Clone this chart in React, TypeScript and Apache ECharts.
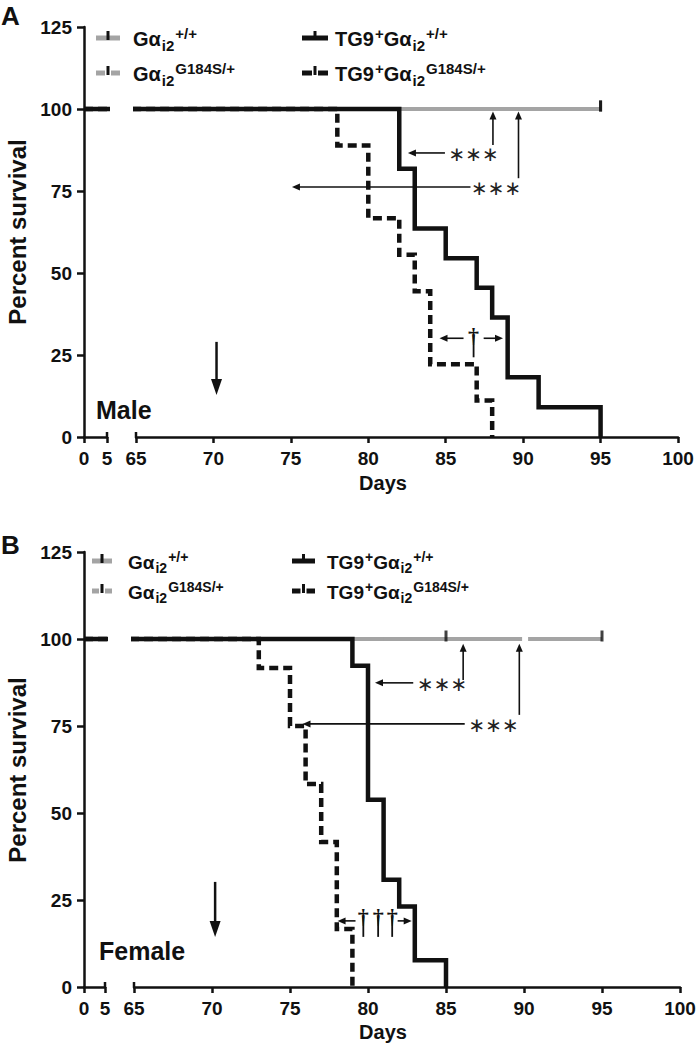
import React, { useEffect, useRef } from "react";
import * as echarts from "echarts";

// ---------------- data ----------------
const xTicksLeft = [0, 5];
const xTicksRight = [65, 70, 75, 80, 85, 90, 95, 100];
const yTicks = [0, 25, 50, 75, 100, 125];

// Male (panel A)
const maleWtDays = [0, 95];
const maleWtSurv = [100, 100];
const maleWtCensored = [95];
const maleMutDays = [0, 95];
const maleMutSurv = [100, 100];
const maleMutCensored = [95];
const maleTgWtDays = [0, 82, 83, 85, 87, 88, 89, 91, 95];
const maleTgWtSurv = [100, 81.8, 63.6, 54.5, 45.5, 36.4, 18.2, 9.1, 0];
const maleTgMutDays = [0, 78, 80, 82, 83, 84, 87, 88];
const maleTgMutSurv = [100, 88.9, 66.7, 55.6, 44.4, 22.2, 11.1, 0];

// Female (panel B)
const femaleWtDays = [0, 85];
const femaleWtSurv = [100, 100];
const femaleWtCensored = [85];
const femaleMutDays = [0, 95];
const femaleMutSurv = [100, 100];
const femaleMutCensored = [95];
const femaleTgWtDays = [0, 79, 80, 81, 82, 83, 85];
const femaleTgWtSurv = [100, 92.3, 53.8, 30.8, 23.1, 7.7, 0];
const femaleTgMutDays = [0, 73, 75, 76, 77, 78, 79];
const femaleTgMutSurv = [100, 91.7, 75, 58.3, 41.7, 16.7, 0];

const panelLetters = ["A", "B"];
const sexLabels = ["Male", "Female"];
const xTitle = "Days";
const yTitle = "Percent survival";
const sigLabel = "∗∗∗";
const daggerLabel = "†";

// ---------------- styles / layout ----------------
const FONT = '"Liberation Sans", Arial, Helvetica, sans-serif';
const BLACK = "#111111";
const GRAY = "#a4a4a4";
const BREAK_L = 6.3; // where the pre-break segment ends (axis break)
const BREAK_R = 64.75; // where the post-break segment starts

type Group = {
  days: number[];
  surv: number[];
  censored: number[];
  color: string;
  dash: any;
  width: number;
  dashOffset?: number;
};

const PANELS = [
  {
    top: 27,
    height: 410,
    l1: 84,
    w1: 23,
    l2: 136,
    w2: 542,
    groups: [
      { days: maleWtDays, surv: maleWtSurv, censored: maleWtCensored, color: GRAY, dash: "solid", width: 4 },
      { days: maleMutDays, surv: maleMutSurv, censored: maleMutCensored, color: GRAY, dash: [133, 6], dashOffset: 19, width: 4 },
      { days: maleTgMutDays, surv: maleTgMutSurv, censored: [], color: BLACK, dash: [9, 5], width: 4.5 },
      { days: maleTgWtDays, surv: maleTgWtSurv, censored: [], color: BLACK, dash: "solid", width: 4.5 },
    ] as Group[],
    legend: { rows: [38, 73], c1: [96, 120, 133], c2: [302, 328, 335], fs: 20 },
    letterY: 16,
    sexPos: [96, 410],
    titleY: 232,
    daysY: 483,
    arrows: [
      { from: [84.95, 86.6], to: [82.56, 86.6] },
      { from: [88.05, 89.0], to: [88.05, 99.2] },
      { from: [86.6, 76.2], to: [75.07, 76.2] },
      { from: [89.7, 78.9], to: [89.7, 99.2] },
      { from: [86.15, 30.1], to: [84.6, 30.1] },
      { from: [87.45, 30.1], to: [88.7, 30.1] },
    ],
    sigs: [
      [86.8, 86.6],
      [88.25, 76.2],
    ],
    daggers: [[86.8, 31.0]],
    daggerStemEnd: 24.3,
    bigArrow: { from: [70.2, 29], to: [70.2, 12.8] },
  },
  {
    top: 552,
    height: 435,
    l1: 84,
    w1: 21,
    l2: 134,
    w2: 546,
    groups: [
      { days: femaleWtDays, surv: femaleWtSurv, censored: femaleWtCensored, color: GRAY, dash: "solid", width: 4 },
      { days: femaleMutDays, surv: femaleMutSurv, censored: femaleMutCensored, color: GRAY, dash: [133, 6], dashOffset: 19, width: 4 },
      { days: femaleTgMutDays, surv: femaleTgMutSurv, censored: [], color: BLACK, dash: [9, 5], width: 4.5 },
      { days: femaleTgWtDays, surv: femaleTgWtSurv, censored: [], color: BLACK, dash: "solid", width: 4.5 },
    ] as Group[],
    legend: { rows: [561, 591], c1: [92, 112, 128], c2: [292, 315, 327], fs: 19 },
    letterY: 545,
    sexPos: [99, 951],
    titleY: 770,
    daysY: 1032,
    arrows: [
      { from: [82.9, 87.4], to: [80.45, 87.4] },
      { from: [86.1, 88.2], to: [86.1, 98.6] },
      { from: [86.2, 75.6], to: [75.8, 75.6] },
      { from: [89.7, 78.2], to: [89.7, 98.6] },
      { from: [79.2, 19.0], to: [78.05, 19.0] },
      { from: [81.9, 19.0], to: [82.8, 19.0] },
    ],
    sigs: [
      [84.75, 87.4],
      [88.05, 75.6],
    ],
    daggers: [
      [79.7, 20.2],
      [80.65, 20.2],
      [81.55, 20.2],
    ],
    daggerStemEnd: 14.4,
    bigArrow: { from: [70.2, 30.2], to: [70.2, 14.4] },
  },
];

const legendDefs = [
  { col: 0, row: 0, color: GRAY, dashed: false, text: "{m|Gα}{s|i2}{p|+/+}" },
  { col: 0, row: 1, color: GRAY, dashed: true, text: "{m|Gα}{s|i2}{p|G184S/+}" },
  { col: 1, row: 0, color: BLACK, dashed: false, text: "{m|TG9}{p|+}{m|Gα}{s|i2}{p|+/+}" },
  { col: 1, row: 1, color: BLACK, dashed: true, text: "{m|TG9}{p|+}{m|Gα}{s|i2}{p|G184S/+}" },
];

function survAt(days: number[], surv: number[], d: number) {
  let v = surv[0];
  for (let i = 0; i < days.length; i++) if (days[i] <= d) v = surv[i];
  return v;
}

function buildOption() {
  const grid: any[] = [];
  const xAxis: any[] = [];
  const yAxis: any[] = [];
  const series: any[] = [];
  const axisLineStyle = { color: BLACK, width: 2.5 };
  const labelStyle = { fontFamily: FONT, fontWeight: "bold", fontSize: 19, color: BLACK };

  PANELS.forEach((P, k) => {
    const g1 = 2 * k;
    const g2 = 2 * k + 1;
    grid.push({ left: P.l1, top: P.top, width: P.w1, height: P.height });
    grid.push({ left: P.l2, top: P.top, width: P.w2, height: P.height });
    const xBase = {
      type: "value",
      axisLine: { show: true, onZero: false, lineStyle: axisLineStyle },
      axisTick: { show: true, length: 6, lineStyle: axisLineStyle },
      axisLabel: { ...labelStyle, margin: 12 },
      splitLine: { show: false },
    };
    xAxis.push({
      ...xBase,
      gridIndex: g1,
      min: xTicksLeft[0],
      max: xTicksLeft[xTicksLeft.length - 1],
      interval: xTicksLeft[1] - xTicksLeft[0],
    });
    xAxis.push({
      ...xBase,
      gridIndex: g2,
      min: xTicksRight[0],
      max: xTicksRight[xTicksRight.length - 1],
      interval: xTicksRight[1] - xTicksRight[0],
    });
    const yBase = {
      type: "value",
      min: yTicks[0],
      max: yTicks[yTicks.length - 1],
      interval: yTicks[1] - yTicks[0],
    };
    yAxis.push({
      ...yBase,
      gridIndex: g1,
      axisLine: { show: true, onZero: false, lineStyle: axisLineStyle },
      axisTick: { show: true, length: 7, lineStyle: axisLineStyle },
      axisLabel: { ...labelStyle, margin: 12 },
      splitLine: { show: false },
    });
    yAxis.push({ ...yBase, gridIndex: g2, show: false, splitLine: { show: false } });

    P.groups.forEach((G, gi) => {
      const ls = {
        color: G.color,
        width: G.width,
        type: G.dash,
        dashOffset: G.dashOffset || 0,
        cap: "butt",
        join: "miter",
      };
      series.push({
        type: "line",
        xAxisIndex: g1,
        yAxisIndex: g1,
        data: [
          [G.days[0], G.surv[0]],
          [BREAK_L, G.surv[0]],
        ],
        step: "end",
        symbol: "none",
        clip: false,
        silent: true,
        lineStyle: ls,
        z: 2 + gi,
      });
      series.push({
        type: "line",
        xAxisIndex: g2,
        yAxisIndex: g2,
        data: [[BREAK_R, G.surv[0]], ...G.days.slice(1).map((d, i) => [d, G.surv[i + 1]])],
        step: "end",
        symbol: "none",
        clip: false,
        silent: true,
        lineStyle: ls,
        z: 2 + gi,
      });
      if (G.censored.length) {
        series.push({
          type: "scatter",
          xAxisIndex: g2,
          yAxisIndex: g2,
          data: G.censored.map((d) => [d, survAt(G.days, G.surv, d)]),
          symbol: "rect",
          symbolSize: [3, 11],
          symbolOffset: [0, -3],
          itemStyle: { color: BLACK },
          silent: true,
          z: 8,
        });
      }
    });
  });

  return { animation: false, backgroundColor: "#ffffff", grid, xAxis, yAxis, series };
}

function txt(x: number, y: number, text: string, opts: any = {}) {
  const align = opts.align || "left";
  const va = opts.va || "middle";
  return {
    type: "text",
    x,
    y,
    rotation: opts.rotation || 0,
    z: 100,
    silent: true,
    style: {
      text,
      fill: opts.fill || BLACK,
      fontFamily: opts.fontFamily || FONT,
      fontSize: opts.fontSize || 19,
      fontWeight: opts.fontWeight || "bold",
      align,
      verticalAlign: va,
      textAlign: align,
      textVerticalAlign: va,
      rich: opts.rich,
    },
  };
}

function arrowEls(p0: number[], p1: number[], lw: number, headLen: number, headW: number) {
  const dx = p1[0] - p0[0];
  const dy = p1[1] - p0[1];
  const L = Math.hypot(dx, dy) || 1;
  const ux = dx / L;
  const uy = dy / L;
  const bx = p1[0] - ux * headLen;
  const by = p1[1] - uy * headLen;
  const nx = -uy;
  const ny = ux;
  return [
    {
      type: "line",
      z: 100,
      silent: true,
      shape: { x1: p0[0], y1: p0[1], x2: bx + ux * 1, y2: by + uy * 1 },
      style: { stroke: BLACK, lineWidth: lw },
    },
    {
      type: "polygon",
      z: 100,
      silent: true,
      shape: {
        points: [
          [p1[0], p1[1]],
          [bx + (nx * headW) / 2, by + (ny * headW) / 2],
          [bx - (nx * headW) / 2, by - (ny * headW) / 2],
        ],
      },
      style: { fill: BLACK },
    },
  ];
}

function buildGraphics(chart: any) {
  const els: any[] = [];
  PANELS.forEach((P, k) => {
    const g1 = 2 * k;
    const g2 = 2 * k + 1;
    const px = (v: number[]) => chart.convertToPixel({ gridIndex: g2 }, v) as number[];

    // panel letter, sex label, axis titles
    els.push(txt(1, P.letterY, panelLetters[k], { fontSize: 26 }));
    els.push(txt(P.sexPos[0], P.sexPos[1], sexLabels[k], { fontSize: 25 }));
    els.push(txt(17, P.titleY, yTitle, { fontSize: 24, align: "center", rotation: Math.PI / 2 }));
    els.push(txt((P.l2 + P.l2 + P.w2) / 2 - 24, P.daysY, xTitle, { fontSize: 20, align: "center" }));

    // axis break caps
    const axisY = P.top + P.height;
    const brk1 = chart.convertToPixel({ gridIndex: g1 }, [xTicksLeft[xTicksLeft.length - 1], 0]) as number[];
    const brk2 = px([xTicksRight[0], 0]);
    [brk1[0], brk2[0]].forEach((x) =>
      els.push({
        type: "line",
        z: 100,
        silent: true,
        shape: { x1: x, y1: axisY - 5, x2: x, y2: axisY },
        style: { stroke: BLACK, lineWidth: 2.5 },
      })
    );

    // legend
    const L = P.legend;
    const small = L.fs - 5;
    const rich = {
      m: { fontFamily: FONT, fontWeight: "bold", fontSize: L.fs, fill: BLACK, color: BLACK },
      s: { fontFamily: FONT, fontWeight: "bold", fontSize: small, fill: BLACK, color: BLACK, padding: [12, 0, 0, 1] },
      p: { fontFamily: FONT, fontWeight: "bold", fontSize: small, fill: BLACK, color: BLACK, padding: [0, 0, 11, 1] },
    };
    legendDefs.forEach((d) => {
      const c = d.col === 0 ? L.c1 : L.c2;
      const y = L.rows[d.row];
      const x0 = c[0];
      const x1 = c[1];
      const mid = (x0 + x1) / 2;
      const segs = d.dashed
        ? [
            [x0, mid - 3],
            [mid + 3, x1],
          ]
        : [[x0, x1]];
      segs.forEach((s) =>
        els.push({
          type: "line",
          z: 100,
          silent: true,
          shape: { x1: s[0], y1: y, x2: s[1], y2: y },
          style: { stroke: d.color, lineWidth: 5 },
        })
      );
      els.push({
        type: "rect",
        z: 101,
        silent: true,
        shape: { x: mid - 1.5, y: y - 7, width: 3, height: 9 },
        style: { fill: BLACK },
      });
      els.push(txt(c[2], y + 1, d.text, { rich, fontSize: L.fs }));
    });

    // annotations
    P.arrows.forEach((a) => els.push(...arrowEls(px(a.from), px(a.to), 1.6, 8, 7)));
    P.sigs.forEach((s) => {
      const p = px(s);
      els.push(
        txt(p[0], p[1] + 1, sigLabel, {
          fontFamily: '"DejaVu Sans", sans-serif',
          fontWeight: "normal",
          fontSize: 20,
          align: "center",
          fill: "#222222",
        })
      );
    });
    P.daggers.forEach((d) => {
      const p = px(d);
      const e = px([d[0], P.daggerStemEnd]);
      els.push({
        type: "line",
        z: 100,
        silent: true,
        shape: { x1: p[0], y1: p[1], x2: e[0], y2: e[1] },
        style: { stroke: BLACK, lineWidth: 1.8 },
      });
      els.push(
        txt(p[0], p[1], daggerLabel, {
          fontFamily: '"Liberation Serif", serif',
          fontWeight: "bold",
          fontSize: 22,
          align: "center",
        })
      );
    });
    els.push(...arrowEls(px(P.bigArrow.from), px(P.bigArrow.to), 2.5, 16, 11));
  });
  return els;
}

export default function App() {
  const ref = useRef<HTMLDivElement>(null);
  useEffect(() => {
    document.body.style.margin = "0";
    const chart = echarts.init(ref.current as HTMLDivElement, null, { renderer: "svg" });
    chart.setOption(buildOption() as any);
    chart.setOption({ graphic: { elements: buildGraphics(chart) } } as any);
    return () => chart.dispose();
  }, []);
  return <div ref={ref} style={{ width: 699, height: 1050, background: "#fff" }} />;
}
